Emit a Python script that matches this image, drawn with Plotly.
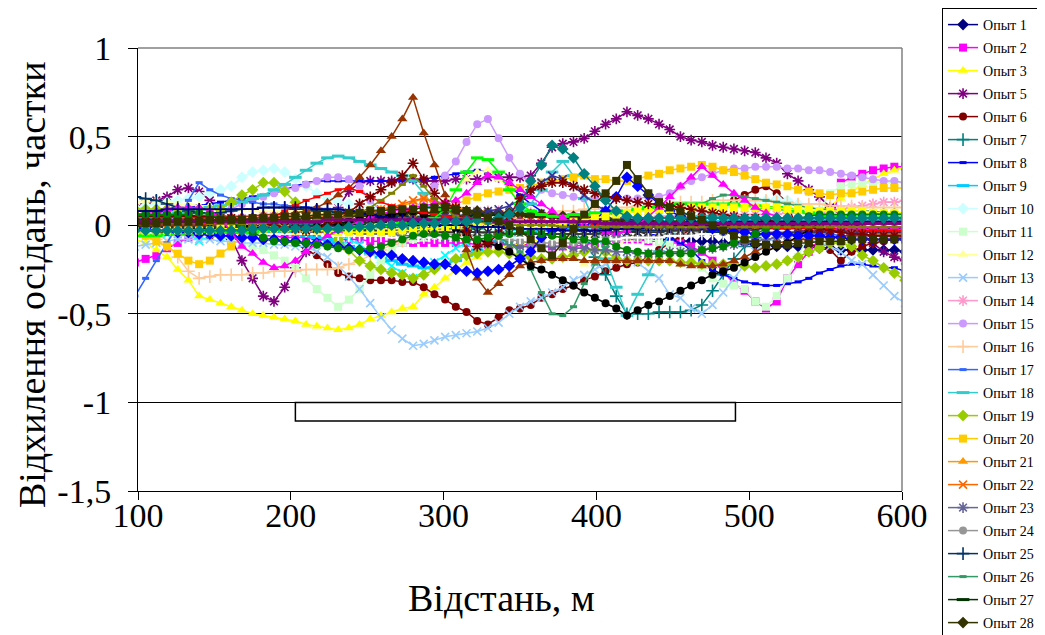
import plotly.graph_objects as go

# distance, m (measurement points every 7 m)
dist = list(range(98, 603, 7))

# values in hundredths of the fraction
op1 = [3,3,4,4,5,5,5,4,4,3, 3,2,2,1,1,0,0,-1,-1,-2, -2,-3,-3,-4,-4,-4,-3,-2,-1,0,
       0,1,2,3,4,4,3,2,1,0, -1,-2,-3,-4,-5,-6,-6,-7,-8,-8, -8,-9,-9,-9,-9,-10,-10,-10,-11,-11,
       -12,-12,-12,-12,-13,-13,-14,-14,-14,-14, -14,-14,-15]
op2 = [-21,-19,-17,-13,-10,-7,-5,-4,-4,-4, -5,-5,-6,-6,-7,-7,-7,-8,-8,-8, -8,-8,-9,-9,-9,-10,-10,-10,-10,-10,
       -10,-10,-11,-11,-11,-11,-11,-11,-12,-12, -12,-12,-11,-10,-9,-8,-8,-8,-9,-9, -10,-10,-12,-15,-20,-26,-33,-37,-43,-47,
       -43,-30,-22,-15,-8,-3,24,27,29,31, 32,33,33]
op3 = [-8,-10,-14,-18,-25,-31,-40,-42,-44,-46, -48,-50,-51,-52,-53,-54,-56,-57,-58,-59, -58,-56,-53,-51,-49,-47,-46,-39,-35,-30,
       -25,-21,-18,-15,-13,-11,-10,-9,-8,-7, -6,-6,-5,-5,-4,-4,-3,-3,-3,-2, -2,-2,-1,-1,0,0,-1,-1,0,0,
       0,1,3,5,8,11,15,19,23,26, 29,31,33]
op4 = [-2,-3,-4,-5,-5,-5,-9,-6,-7,-8, -6,-5,-4,-4,-3,-3,-3,-4,-5,-6, -8,-11,-15,-19,-23,-27,-30,-26,-21,-17,
       -13,-10,-7,-5,-4,-3,-3,-2,-1,0, 0,1,1,0,-1,-2,-2,-1,0,0, 1,1,0,0,-1,-1,0,0,0,1,
       1,1,1,0,0,0,0,0,1,1, 1,1,1]
op5 = [10,12,14,16,20,21,19,14,5,-8, -20,-30,-40,-43,-35,-24,-15,-8,0,10, 19,24,25,25,25,26,26,25,25,25,
       26,26,26,27,27,27,27,28,35,44, 46,47,49,53,57,60,64,62,60,57, 54,50,48,47,45,44,43,42,41,38,
       35,29,25,20,16,10,5,0,-5,-10, -15,-18,-20]
op6 = [-3,-3,-4,-4,-5,-5,-5,-6,-6,-6, -7,-7,-8,-8,-9,-10,-14,-17,-22,-27, -29,-30,-31,-31,-31,-32,-32,-35,-39,-42,
       -46,-49,-54,-56,-52,-48,-47,-45,-41,-39, -36,-34,-31,-29,-26,-24,-22,-21,-18,-14, -10,-6,-2,2,6,10,14,17,20,22,
       18,13,-5,-10,-13,-14,-20,-15,-12,-10, -9,-8,-7]
op7 = [4,4,4,4,4,3,3,3,3,3, 2,2,2,1,1,1,1,0,0,0, 0,0,-1,-1,-1,-1,-2,-2,-2,-2,
       -2,-2,-2,-1,-1,0,0,1,1,1, 0,-3,-10,-18,-28,-40,-50,-50,-50,-49, -49,-49,-48,-45,-37,-28,-19,-12,-7,-4,
       -2,0,1,1,2,2,2,2,2,2, 2,2,2]
op8 = [5,6,7,8,9,10,11,12,13,14, 15,16,17,18,20,22,24,25,25,25, 25,25,25,25,25,25,25,26,27,28,
       29,30,31,30,27,22,17,12,8,5, 3,2,1,0,-1,-2,-3,-4,-5,-6, -8,-10,-14,-20,-25,-28,-30,-32,-33,-34,
       -34,-33,-32,-30,-27,-25,-23,-22,-22,-23, -24,-24,-26]
op9 = [1,1,1,0,0,0,-1,-1,-2,-2, -2,-3,-3,-4,-4,-5,-6,-7,-8,-10, -12,-14,-16,-18,-20,-22,-23,-24,-24,-22,
       -20,-17,-14,-11,-9,-7,-5,-4,-3,-2, -2,-1,-1,0,0,1,1,1,1,2, 2,2,2,2,2,2,3,3,3,3,
       3,3,3,3,4,4,4,4,4,5, 5,5,5]
op10 = [10,11,12,13,14,15,16,18,20,22, 27,30,31,32,30,26,22,18,15,13, 12,11,10,9,8,8,8,7,7,6,
        6,6,6,5,5,5,5,5,5,5, 5,5,5,4,4,4,4,4,4,5, 5,6,7,8,9,10,11,12,13,14,
        15,14,12,10,8,7,6,6,5,5, 5,5,5]
op11 = [3,3,2,2,1,0,-2,-4,-6,-8, -10,-12,-14,-17,-20,-24,-30,-36,-41,-46, -42,-36,-28,-20,-14,-10,-8,-7,-6,-6,
        -6,-6,-5,-5,-5,-5,-5,-5,-5,-5, -5,-5,-5,-6,-6,-6,-6,-7,-8,-9, -11,-14,-18,-24,-30,-33,-34,-36,-43,-46,
        -40,-30,-18,-5,8,18,22,23,24,24, 24,24,24]
op12 = [13,14,14,13,12,12,11,11,10,10, 9,9,8,8,8,8,8,7,7,7, 6,6,6,6,6,6,7,8,10,14,
        20,26,30,31,26,20,14,8,2,-5, -12,-18,-22,-20,-16,-12,-8,-5,-3,-2, -1,0,0,1,1,1,1,2,2,2,
        2,2,2,2,2,2,2,2,2,2, 2,2,2]
op13 = [-12,-11,-10,-9,-8,-8,-8,-8,-9,-9, -10,-10,-10,-11,-11,-12,-12,-15,-18,-23, -29,-36,-44,-52,-59,-64,-68,-67,-65,-63,
        -62,-61,-60,-58,-55,-50,-46,-43,-41,-38, -35,-31,-28,-25,-22,-20,-19,-21,-26,-30, -39,-41,-47,-50,-45,-38,-30,-22,-15,-10,
        -7,-5,-6,-8,-10,-12,-15,-20,-22,-28, -34,-40,-44]
op14 = [2,2,2,3,3,3,3,4,4,4, 4,4,5,5,5,5,5,5,6,6, 6,6,6,7,7,7,7,7,8,8,
        8,8,8,8,8,7,7,7,6,6, 6,5,5,5,4,4,4,4,4,5, 5,5,5,5,5,6,6,6,6,6,
        6,7,7,7,7,8,9,10,11,12, 13,13,14]
op15 = [2,2,3,3,4,4,5,6,7,9, 12,14,16,18,20,21,23,25,27,27, 26,22,14,8,5,5,8,15,22,28,
        36,47,57,60,49,38,29,23,20,18, 17,16,15,15,15,15,15,15,16,16, 18,22,25,27,29,31,32,32,33,33,
        33,32,32,31,31,30,29,28,27,26, 25,25,24]
op16 = [-3,-5,-8,-11,-18,-26,-30,-29,-28,-28, -28,-27,-27,-26,-26,-26,-25,-25,-25,-24, -22,-20,-17,-14,-11,-9,-7,-5,-4,-3,
        -2,-1,0,1,2,3,4,5,6,7, 8,8,9,9,9,10,10,11,11,12, 12,13,13,13,14,14,14,14,14,14,
        13,13,12,12,12,11,11,11,10,10, 10,10,10]
op17 = [-40,-30,-20,-10,0,14,24,20,17,15, 14,13,12,12,11,11,10,10,9,9, 8,8,7,7,6,6,5,5,5,5,
        4,4,4,3,3,3,3,2,2,2, 2,1,1,1,0,0,0,-1,-1,-1, -2,-2,-2,-3,-3,-3,-3,-4,-4,-4,
        -4,-5,-5,-5,-5,-5,-6,-6,-6,-6, -6,-7,-7]
op18 = [5,5,6,6,7,8,9,10,11,12, 13,15,17,20,23,27,31,35,38,39, 38,36,34,32,30,28,25,18,10,5,
        3,2,2,2,3,5,8,12,20,30, 36,28,15,2,-19,-35,-51,-39,-28,-15, -5,0,3,5,5,5,4,4,4,3,
        3,3,3,3,3,3,3,3,3,3, 3,3,3]
op19 = [9,9,9,9,9,9,9,9,9,13, 17,20,24,24,19,13,7,2,-3,-8, -14,-20,-23,-25,-27,-28,-30,-28,-25,-22,
        -19,-17,-16,-15,-15,-16,-17,-18,-19,-19, -18,-17,-15,-14,-15,-19,-20,-20,-20,-20, -20,-21,-21,-22,-22,-22,-22,-23,-24,-23,
        -22,-20,-18,-15,-13,-10,-10,-12,-17,-20, -24,-27,-31]
op20 = [-3,-6,-9,-12,-16,-20,-22,-20,-16,-12, -6,-3,-1,0,1,2,3,3,4,4, 5,5,5,6,6,6,7,7,8,10,
        12,14,16,18,19,20,21,22,24,25, 26,27,28,26,26,25,25,26,28,29, 31,32,33,34,33,31,30,28,26,24,
        23,22,20,19,18,17,18,18,19,20, 21,21,21]
op21 = [0,0,1,1,1,2,2,2,2,3, 3,3,3,4,4,4,5,5,5,6, 6,7,8,9,10,11,13,15,14,12,
        10,9,8,8,7,7,6,6,5,5, 4,4,3,3,3,2,2,2,1,1, 1,1,0,0,0,0,-1,-1,-1,-1,
        -1,-2,-2,-2,-2,-2,-2,-2,-2,-2, -2,-2,-2]
op22 = [2,2,2,2,2,2,2,2,3,3, 3,3,3,4,4,4,5,5,6,6, 7,7,8,9,10,12,14,15,13,11,
        9,8,7,7,6,6,5,5,5,4, 4,4,3,3,3,2,2,2,2,1, 1,1,1,0,0,0,0,0,-1,-1,
        -1,-1,-1,-1,-2,-2,-2,-2,-2,-2, -2,-2,-2]
op23 = [-1,-1,-1,-1,-1,-2,-2,-2,-2,-2, -2,-2,-3,-3,-3,-3,-4,-4,-4,-4, -4,-5,-5,-5,-5,-6,-6,-6,-6,-7,
        -7,-7,-8,-9,-10,-11,-12,-12,-12,-12, -12,-13,-13,-14,-14,-15,-15,-16,-16,-16, -15,-15,-14,-14,-13,-12,-11,-10,-9,-8,
        -7,-6,-5,-5,-4,-4,-3,-3,-3,-3, -2,-2,-2]
op24 = [0,0,0,-1,-1,-1,-1,-2,-2,-2, -2,-2,-2,-3,-3,-3,-3,-3,-3,-3, -4,-4,-4,-4,-4,-4,-4,-5,-5,-5,
        -5,-5,-6,-6,-7,-8,-9,-10,-10,-10, -10,-10,-9,-9,-8,-8,-7,-7,-6,-6, -5,-5,-5,-4,-4,-4,-3,-3,-3,-2,
        -2,-2,-2,-1,-1,-1,-1,-1,0,0, 0,0,0]
op25 = [16,15,14,12,10,8,7,7,7,8, 9,9,10,10,10,9,9,8,8,7, 7,6,6,5,5,5,4,4,4,3,
        3,3,2,2,2,1,1,1,0,0, 0,-1,-1,-1,-2,-2,-2,-3,-3,-3, -3,-3,-3,-3,-4,-4,-4,-4,-4,-4,
        -4,-4,-4,-4,-4,-4,-4,-4,-4,-4, -4,-4,-4]
op26 = [1,1,1,1,1,1,1,1,1,1, 1,1,1,0,0,0,0,0,0,0, 0,0,-1,-1,-1,-1,-1,-1,-2,-2,
        -2,-3,-4,-5,-7,-10,-15,-25,-38,-50, -51,-46,-33,-22,-12,-6,-3,-2,-1,0, 1,4,8,12,15,17,17,16,15,14,
        13,12,11,10,9,9,8,8,8,8, 7,7,7]
op27 = [0,0,-1,-1,-1,-1,-2,-2,-2,-2, -2,-2,-2,-2,-2,-1,-1,-1,0,0, 1,1,2,2,3,3,4,4,5,5,
        5,5,6,6,6,6,6,5,5,5, 4,4,4,3,3,3,2,2,2,1, 1,1,0,0,0,0,-1,-1,-1,-1,
        -1,-1,-1,-1,-1,-1,-1,-1,-1,-1, -1,-1,-1]
op28 = [3,3,3,3,3,3,3,3,3,3, 3,3,3,3,3,3,4,4,4,4, 5,5,5,6,6,6,7,7,7,8,
        8,8,8,7,7,7,6,6,6,5, 5,5,4,4,4,3,3,3,3,2, 2,2,2,2,1,1,1,1,1,1,
        1,1,1,1,1,1,1,1,1,1, 1,1,1]
# further experiments drawn on the chart but cut off from the legend
ex_brown = [2,2,3,3,3,4,4,4,5,5, 5,5,6,6,6,7,8,10,13,17, 21,27,34,42,50,60,72,52,34,17,
            0,-14,-30,-38,-33,-28,-23,-21,-20,-19, -19,-19,-20,-20,-20,-20,-20,-20,-20,-20, -20,-22,-23,-23,-23,-22,-20,-18,-15,-12,
            -10,-9,-8,-8,-7,-7,-6,-6,-6,-5, -5,-5,-5]
ex_plum = [-1,-1,-1,-1,0,0,0,0,1,1, 1,1,1,2,2,2,2,2,3,3, 3,3,3,4,4,4,4,4,4,4,
           4,4,4,3,3,3,3,2,2,2, 2,1,1,1,0,0,0,-1,-1,-1, -1,-2,-2,-2,-2,-2,-3,-3,-3,-3,
           -3,-3,-3,-3,-3,-3,-3,-3,-3,-3, -3,-3,-3]
ex_indigo = [0,0,0,0,0,0,0,-1,-1,-1, -1,-1,-1,-1,-1,-1,-1,-1,-1,-1, -1,-1,-1,0,0,1,2,3,4,5,
             5,6,7,8,9,11,14,18,24,28, 26,22,17,12,8,5,3,2,1,0, 0,0,0,-1,-1,-1,-1,-1,-1,-1,
             -1,-1,-1,-1,-1,-1,-1,-1,-1,-1, -1,-1,-1]
ex_grey = [-1,-1,-1,-1,-1,-1,-1,-1,-1,-1, -1,-2,-2,-2,-2,-2,-2,-2,-2,-3, -3,-3,-3,-3,-3,-3,-3,-3,-4,-4,
           -4,-4,-4,-4,-4,-5,-5,-5,-5,-5, -5,-5,-5,-5,-4,-4,-4,-4,-4,-4, -3,-3,-3,-3,-3,-3,-2,-2,-2,-2,
           -2,-2,-2,-2,-1,-1,-1,-1,-1,-1, -1,-1,-1]
ex_black = [0,0,1,1,1,2,2,2,2,1, 0,-1,-2,-2,-2,-2,-2,-1,0,1, 2,3,4,5,6,7,8,6,4,1,
            -2,-5,-8,-10,-12,-15,-19,-23,-25,-28, -31,-34,-38,-41,-44,-47,-51,-48,-45,-43, -40,-37,-34,-31,-28,-26,-24,-21,-18,-15,
            -12,-10,-6,-3,0,3,5,6,6,6, 7,7,7]
ex_white = [-2,-2,-2,-3,-3,-3,-3,-4,-4,-4, -4,-4,-5,-5,-5,-5,-5,-5,-6,-6, -6,-6,-6,-6,-7,-7,-7,-7,-7,-7,
            -7,-7,-7,-7,-7,-7,-7,-7,-7,-8, -8,-8,-8,-8,-8,-8,-7,-7,-7,-7, -6,-6,-6,-5,-5,-5,-4,-4,-4,-3,
            -3,-3,-2,-2,-2,-1,-1,-1,-1,0, 0,0,0]
ex_red = [0,0,0,0,0,0,0,1,1,1, 1,2,3,5,8,11,14,16,18,20, 21,19,16,13,11,9,8,7,6,5,
          5,4,4,3,3,3,2,2,2,2, 2,1,1,1,1,0,0,0,0,0, 0,0,0,-1,-1,-1,-1,-1,-1,-1,
          -2,-2,-2,-2,-2,-2,-2,-2,-3,-3, -3,-3,-3]
ex_green = [-6,-6,-6,-5,-5,-5,-5,-4,-4,-4, -4,-4,-3,-3,-3,-3,-3,-2,-2,-2, -2,-1,-1,0,0,1,1,2,4,9,
            20,30,38,37,30,20,12,8,6,5, 5,6,6,7,7,8,8,9,10,11, 11,12,12,12,12,12,12,11,11,10,
            10,9,8,7,6,5,5,4,4,4, 4,4,4]
ex_bluedia = [-2,-2,-3,-3,-4,-4,-5,-5,-6,-6, -7,-7,-8,-8,-9,-9,-10,-10,-11,-12, -13,-14,-15,-16,-17,-19,-20,-21,-22,-22,
              -25,-26,-27,-26,-25,-23,-19,-15,-7,-3, -1,0,1,3,8,16,27,22,17,12, 8,5,2,0,-2,-3,-4,-4,-5,-5,
              -5,-5,-6,-6,-6,-7,-7,-8,-8,-8, -8,-8,-8]
ex_yellow = [-3,-3,-3,-3,-3,-3,-3,-3,-2,-2, -2,-2,-2,-2,-2,-3,-3,-3,-3,-4, -4,-4,-4,-4,-4,-3,-3,-2,-2,-1,
             0,0,1,1,1,1,1,0,0,0, 1,2,3,4,5,6,7,8,8,9, 9,9,10,10,10,10,10,10,10,10,
             10,9,9,9,8,8,8,8,8,7, 7,7,7]
ex_magtri = [6,7,8,9,10,10,10,8,4,-4, -12,-16,-21,-24,-23,-20,-15,-10,-6,-3, 0,2,4,6,8,9,10,11,12,13,
             14,18,24,28,27,24,20,16,12,8, 4,2,0,-2,-4,-5,-3,0,5,10, 16,22,27,33,28,23,18,14,10,7,
             5,3,2,1,0,0,-1,-1,-1,-1, -1,-1,-1]
ex_maroonast = [5,5,5,5,5,5,5,5,4,4, 3,2,1,0,-1,-2,-3,-2,0,3, 7,12,16,20,24,28,35,26,18,12,
                10,-3,-12,-10,-5,5,15,20,22,24, 24,22,20,18,16,15,14,13,12,12, 11,10,9,8,7,6,5,4,4,3,
                2,1,0,-1,-2,-3,-4,-5,-5,-6, -6,-6,-6]
ex_greencirc = [6,6,6,6,6,6,7,6,4,2, -1,-4,-7,-9,-9,-10,-10,-11,-12,-13, -14,-14,-13,-12,-10,-8,-6,-5,-5,-6,
                -7,-8,-8,-7,-6,-5,-4,-4,-5,-6, -7,-8,-8,-9,-9,-12,-14,-15,-16,-16, -16,-16,-16,-14,-13,-12,-10,-8,-5,-2,
                0,2,4,5,6,6,6,6,6,6, 6,6,6]
ex_navyplus = [8,8,8,9,9,9,9,9,9,9, 9,9,10,10,10,10,10,9,9,9, 8,7,6,5,4,3,2,1,0,0,
               0,0,-1,-1,-1,-2,-2,-2,-2,-2, -3,-3,-3,-3,-3,-2,-2,-2,-1,-1, -1,0,0,1,1,1,2,2,2,2,
               2,2,2,2,2,2,2,2,2,2, 2,2,2]
ex_olive = [1,1,1,1,1,1,1,1,1,1, 1,1,1,2,2,2,2,3,3,4, 5,7,10,14,18,23,28,22,15,9,
            5,3,2,1,1,0,0,0,0,0, -1,-1,-1,-1,-1,-1,-1,-1,-1,-1, -1,-1,-1,-1,-1,-1,-1,-1,-1,-1,
            -1,-1,-1,-1,-1,-1,-1,-1,-1,-1, -1,-1,-1]
ex_purple = [2,2,2,2,2,2,2,2,2,2, 2,2,2,2,2,2,2,2,3,3, 3,3,3,3,3,3,3,3,3,3,
             3,3,3,3,2,2,2,2,2,2, 2,2,2,2,1,1,1,1,1,1, 1,1,1,1,1,1,1,1,1,1,
             1,1,1,1,1,1,1,1,1,1, 1,1,1]
ex_tealdia = [-3,-3,-3,-3,-3,-3,-3,-3,-3,-3, -3,-2,-2,-2,-2,-2,-2,-2,-2,-2, -1,-1,-1,0,0,0,1,1,1,2,
              2,2,3,3,4,6,10,25,34,45, 43,38,29,22,14,8,5,4,4,4, 4,4,4,4,4,4,4,4,4,4,
              4,4,4,4,4,4,4,4,4,4, 4,4,4]
ex_olivesq = [1,1,1,2,2,2,2,3,3,3, 3,4,4,4,5,5,5,6,6,6, 7,7,8,8,9,9,9,10,10,10,
              9,8,6,4,2,0,-3,-8,-13,-17, -10,-2,6,12,18,25,34,26,18,13, 10,8,5,3,0,-3,-6,-8,-10,-11,
              -11,-11,-10,-10,-9,-9,-9,-8,-8,-8, -8,-8,-8]

# foundation outline (m, fraction)
found_x = [203, 491]
found_y = [-1.105, -1.0]

y_ticks = [-1.5, -1.0, -0.5, 0.0, 0.5, 1.0]
y_labels = ["-1,5", "-1", "-0,5", "0", "0,5", "1"]
x_ticks = [100, 200, 300, 400, 500, 600]

series = [
    ("Опыт 1", op1, "#000080", "diamond", True),
    ("Опыт 2", op2, "#FF00FF", "square", True),
    ("Опыт 3", op3, "#FFFF00", "triangle", True),
    ("Опыт 4", op4, "#00FFFF", "x", False),
    ("Опыт 5", op5, "#800080", "asterisk", True),
    ("Опыт 6", op6, "#800000", "circle", True),
    ("Опыт 7", op7, "#008080", "plus", True),
    ("Опыт 8", op8, "#0000FF", "sdash", True),
    ("Опыт 9", op9, "#00CCFF", "dash", True),
    ("Опыт 10", op10, "#CCFFFF", "diamond", True),
    ("Опыт 11", op11, "#CCFFCC", "square", True),
    ("Опыт 12", op12, "#FFFF99", "triangle", True),
    ("Опыт 13", op13, "#99CCFF", "x", True),
    ("Опыт 14", op14, "#FF99CC", "asterisk", True),
    ("Опыт 15", op15, "#CC99FF", "circle", True),
    ("Опыт 16", op16, "#FFCC99", "plus", True),
    ("Опыт 17", op17, "#3366FF", "sdash", True),
    ("Опыт 18", op18, "#33CCCC", "dash", True),
    ("Опыт 19", op19, "#99CC00", "diamond", True),
    ("Опыт 20", op20, "#FFCC00", "square", True),
    ("Опыт 21", op21, "#FF9900", "triangle", True),
    ("Опыт 22", op22, "#FF6600", "x", True),
    ("Опыт 23", op23, "#666699", "asterisk", True),
    ("Опыт 24", op24, "#969696", "circle", True),
    ("Опыт 25", op25, "#003366", "plus", True),
    ("Опыт 26", op26, "#339966", "sdash", True),
    ("Опыт 27", op27, "#003300", "dash", True),
    ("Опыт 28", op28, "#333300", "diamond", True),
    ("Опыт 29", ex_brown, "#993300", "triangle", False),
    ("Опыт 30", ex_plum, "#993366", "triangle", False),
    ("Опыт 31", ex_indigo, "#333399", "x", False),
    ("Опыт 32", ex_grey, "#333333", "asterisk", False),
    ("Опыт 33", ex_black, "#000000", "circle", False),
    ("Опыт 34", ex_white, "#FFFFFF", "plus", False),
    ("Опыт 35", ex_red, "#FF0000", "sdash", False),
    ("Опыт 36", ex_green, "#00FF00", "dash", False),
    ("Опыт 37", ex_bluedia, "#0000FF", "diamond", False),
    ("Опыт 38", ex_yellow, "#FFFF00", "square", False),
    ("Опыт 39", ex_magtri, "#FF00FF", "triangle", False),
    ("Опыт 41", ex_maroonast, "#800000", "asterisk", False),
    ("Опыт 42", ex_greencirc, "#008000", "circle", False),
    ("Опыт 43", ex_navyplus, "#000080", "plus", False),
    ("Опыт 44", ex_olive, "#808000", "sdash", False),
    ("Опыт 45", ex_purple, "#800080", "dash", False),
    ("Опыт 46", ex_tealdia, "#008080", "diamond", False),
    ("Опыт 47", ex_olivesq, "#333300", "square", False),
]

MARK = {
    "diamond": ("diamond", 9, 0),
    "square": ("square", 8, 0),
    "triangle": ("triangle-up", 9, 0),
    "x": ("x-thin", 8, 1.6),
    "asterisk": ("asterisk", 9, 1.6),
    "circle": ("circle", 8, 0),
    "plus": ("cross-thin", 9, 1.6),
    "sdash": ("line-ew", 5, 3),
    "dash": ("line-ew", 9, 3),
}

FONT = "Times New Roman"
n = len(dist)
fig = go.Figure()
for name, vals, color, mk, leg in series:
    sym, size, lw = MARK[mk]
    vals = (list(vals) + [vals[-1]] * n)[:n]
    fig.add_trace(go.Scatter(
        x=dist, y=[v / 100 for v in vals], mode="lines+markers", name=name,
        legendgroup=name, showlegend=leg,
        line=dict(color=color, width=1.5),
        marker=dict(symbol=sym, size=size, color=color,
                    line=dict(color=color, width=lw)),
    ))

fig.add_shape(type="rect", xref="x", yref="y", x0=found_x[0], x1=found_x[1],
              y0=found_y[0], y1=found_y[1], line=dict(color="black", width=1.5),
              fillcolor="white", layer="above")
fig.add_shape(type="line", xref="paper", yref="paper", x0=1, x1=1, y0=0, y1=1,
              line=dict(color="#808080", width=1.5))
fig.add_shape(type="line", xref="paper", yref="paper", x0=0, x1=1, y0=1, y1=1,
              line=dict(color="#808080", width=1.5))

fig.add_annotation(text="Відстань, м", xref="paper", yref="paper", x=0.476, y=-0.2415,
                   showarrow=False, font=dict(family=FONT, size=38, color="black"),
                   xanchor="center", yanchor="middle")
fig.add_annotation(text="Відхилення осідань, частки", xref="paper", yref="paper",
                   x=-0.1387, y=0.465, textangle=-90, showarrow=False,
                   font=dict(family=FONT, size=38, color="black"),
                   xanchor="center", yanchor="middle")

fig.update_layout(
    width=1045, height=635,
    margin=dict(l=130, r=151, t=40, b=152, autoexpand=False),
    paper_bgcolor="white", plot_bgcolor="white",
    font=dict(family=FONT, color="black"),
    xaxis=dict(range=[100, 600], tickvals=x_ticks, ticks="outside", ticklen=8,
               tickcolor="black", showline=True, linecolor="black", linewidth=1,
               showgrid=False, zeroline=False, ticklabelstandoff=-14, automargin=False,
               tickfont=dict(family=FONT, size=34, color="black")),
    yaxis=dict(range=[-1.5, 1.0], tickvals=y_ticks, ticktext=y_labels, ticks="outside",
               ticklen=9, tickcolor="black", showline=True, linecolor="black",
               linewidth=1, showgrid=True, gridcolor="black", gridwidth=1,
               zeroline=False, ticklabelstandoff=10, automargin=False,
               tickfont=dict(family=FONT, size=34, color="black")),
    legend=dict(x=1.0524, y=1.0903, xanchor="left", yanchor="top",
                bordercolor="black", borderwidth=1, bgcolor="white",
                font=dict(family=FONT, size=14, color="black"),
                traceorder="grouped", tracegroupgap=1.8, itemwidth=30,
                maxheight=800),
    showlegend=True,
)

fig.write_html("out.html")
